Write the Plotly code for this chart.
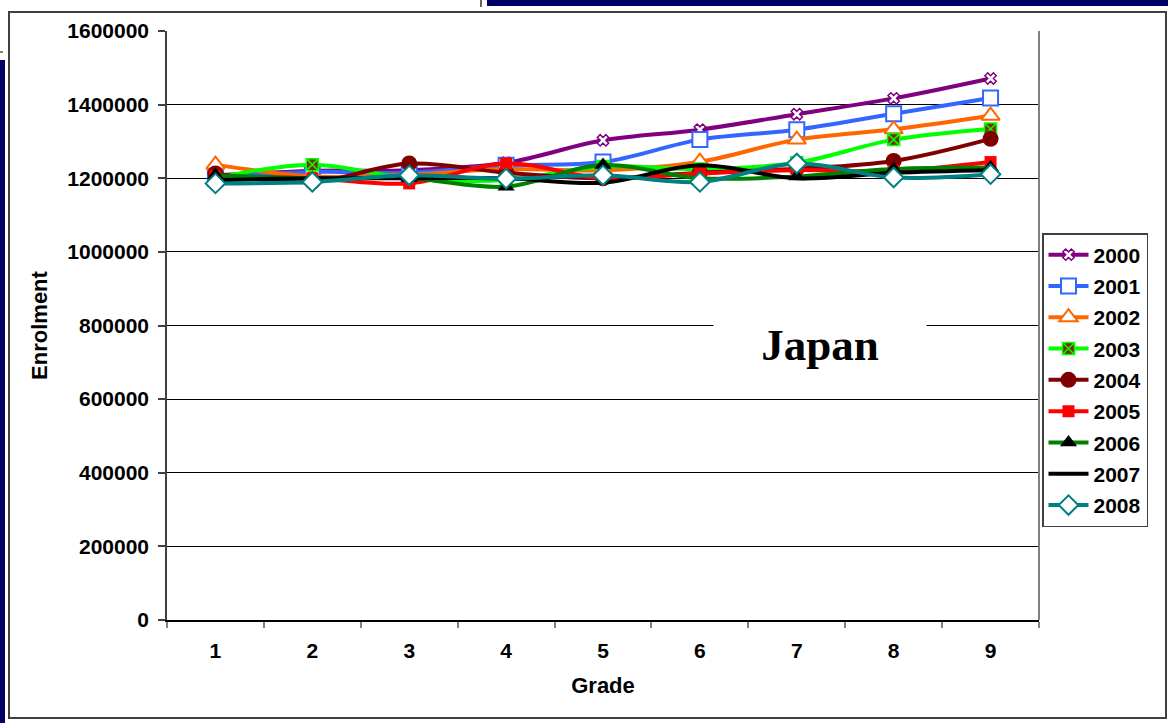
import plotly.graph_objects as go

# ---------------- data ----------------
grades = ["1", "2", "3", "4", "5", "6", "7", "8", "9"]
years = ["2000", "2001", "2002", "2003", "2004", "2005", "2006", "2007", "2008"]

e2000 = [1208000, 1220000, 1222000, 1242000, 1303000, 1332000, 1374000, 1417000, 1471000]
e2001 = [1200000, 1217000, 1215000, 1235000, 1244000, 1305000, 1332000, 1375000, 1418000]
e2002 = [1237000, 1205000, 1210000, 1225000, 1222000, 1245000, 1305000, 1333000, 1370000]
e2003 = [1200000, 1237000, 1200000, 1195000, 1232000, 1225000, 1242000, 1305000, 1334000]
e2004 = [1213000, 1190000, 1240000, 1215000, 1200000, 1215000, 1226000, 1247000, 1307000]
e2005 = [1205000, 1200000, 1186000, 1240000, 1200000, 1213000, 1222000, 1220000, 1244000]
e2006 = [1208000, 1200000, 1200000, 1177000, 1236000, 1200000, 1205000, 1225000, 1229000]
e2007 = [1195000, 1200000, 1200000, 1200000, 1188000, 1235000, 1200000, 1215000, 1222000]
e2008 = [1186000, 1190000, 1208000, 1199000, 1208000, 1190000, 1240000, 1202000, 1211000]

series = [e2000, e2001, e2002, e2003, e2004, e2005, e2006, e2007, e2008]

line_colors = ["#800080", "#3366FF", "#FF6600", "#00FF00", "#800000",
               "#FF0000", "#008000", "#000000", "#008080"]
markers = [
    dict(symbol="x", size=10, color="#FFFFFF", line=dict(color="#800080", width=1.5)),
    dict(symbol="square", size=15, color="#FFFFFF", line=dict(color="#3366FF", width=2)),
    dict(symbol="triangle-up", size=16, color="#FFFFFF", line=dict(color="#FF6600", width=2)),
    dict(symbol="square-x", size=12, color="#7A2E00", line=dict(color="#00FF00", width=1.5)),
    dict(symbol="circle", size=16, color="#800000", line=dict(color="#800000", width=0)),
    dict(symbol="square", size=12, color="#FF0000", line=dict(color="#FF0000", width=0)),
    dict(symbol="triangle-up", size=15, color="#000000", line=dict(color="#000000", width=0)),
    None,
    dict(symbol="diamond", size=15, color="#FFFFFF", line=dict(color="#008080", width=2)),
]

# ---------------- figure ----------------
W, H = 1168, 723
L, R, T, B = 167, 129, 31, 103
PW, PH = W - L - R, H - T - B


def px_x(x):
    return (x - L) / PW


def px_y(y):
    return (H - B - y) / PH


fig = go.Figure()
for name, vals, col, mk in zip(years, series, line_colors, markers):
    fig.add_trace(go.Scatter(
        x=grades, y=vals, name=name, legendgroup=name,
        mode="lines" if mk is None else "lines+markers",
        line=dict(color=col, width=4, shape="spline", smoothing=1),
        marker=mk if mk is not None else dict(),
    ))

font_family = "Liberation Sans, Arial, sans-serif"


def seg(x0, y0, x1, y1, color, width):
    return dict(type="line", xref="paper", yref="paper",
                x0=px_x(x0), x1=px_x(x1), y0=px_y(y0), y1=px_y(y1),
                line=dict(color=color, width=width), layer="above")


shapes = [
    # outer chart border
    dict(type="rect", xref="paper", yref="paper",
         x0=px_x(9), x1=px_x(1166), y0=px_y(12), y1=px_y(718),
         line=dict(color="#404040", width=2), layer="below"),
    # right border of plot area
    dict(type="line", xref="paper", yref="paper", x0=1, x1=1, y0=0, y1=1,
         line=dict(color="#808080", width=2)),
    # slide decorations
    dict(type="rect", xref="paper", yref="paper",
         x0=px_x(487), x1=px_x(1168), y0=px_y(0), y1=px_y(6),
         line=dict(width=0), fillcolor="#000066"),
    seg(481, 0, 481, 7, "#333333", 1.5),
    dict(type="rect", xref="paper", yref="paper",
         x0=px_x(0), x1=px_x(5), y0=px_y(60), y1=px_y(723),
         line=dict(width=0), fillcolor="#000066"),
    seg(0, 52, 3, 52, "#555555", 1.5),
]

fig.update_layout(
    width=W, height=H,
    margin=dict(l=L, r=R, t=T, b=B),
    paper_bgcolor="#FFFFFF", plot_bgcolor="#FFFFFF",
    font=dict(family=font_family, color="#000000"),
    showlegend=True,
    legend=dict(
        x=px_x(1042), y=px_y(233), xanchor="left", yanchor="top",
        borderwidth=1.5, bordercolor="#404040", bgcolor="#FFFFFF",
        font=dict(family=font_family, size=21, weight="bold", color="#000000"),
        tracegroupgap=1, itemwidth=40,
        entrywidth=45, entrywidthmode="pixels",
    ),
    xaxis=dict(
        type="category", range=[-0.5, 8.5],
        tickson="boundaries", ticks="outside", ticklen=6,
        tickcolor="#808080", tickwidth=1.5,
        showline=True, linecolor="#000000", linewidth=1.5,
        showgrid=False, zeroline=False,
        tickfont=dict(family=font_family, size=21, weight="bold"),
        ticklabelstandoff=11,
        title=dict(text="Grade", font=dict(family=font_family, size=22, weight="bold"),
                   standoff=17),
        automargin=False,
    ),
    yaxis=dict(
        range=[0, 1600000], dtick=200000, tickformat="d",
        ticks="outside", ticklen=7, tickcolor="#404040", tickwidth=1.5,
        showline=True, linecolor="#404040", linewidth=1.5,
        showgrid=True, gridcolor="#000000", gridwidth=1,
        zeroline=False,
        tickfont=dict(family=font_family, size=21, weight="bold"),
        ticklabelstandoff=5,
        title=dict(text="Enrolment", font=dict(family=font_family, size=22, weight="bold"),
                   standoff=14),
        automargin=False,
    ),
    shapes=shapes,
    annotations=[
        dict(text="<b>Japan</b>", xref="paper", yref="paper",
             x=px_x(820), y=px_y(345), xanchor="center", yanchor="middle",
             showarrow=False, bgcolor="#FFFFFF", width=210, height=52,
             font=dict(family="Liberation Serif, Times New Roman, serif", size=45,
                       color="#000000")),
    ],
)

fig.write_html("out.html", config={"displayModeBar": False},
               post_script="document.body.style.margin='0';")
